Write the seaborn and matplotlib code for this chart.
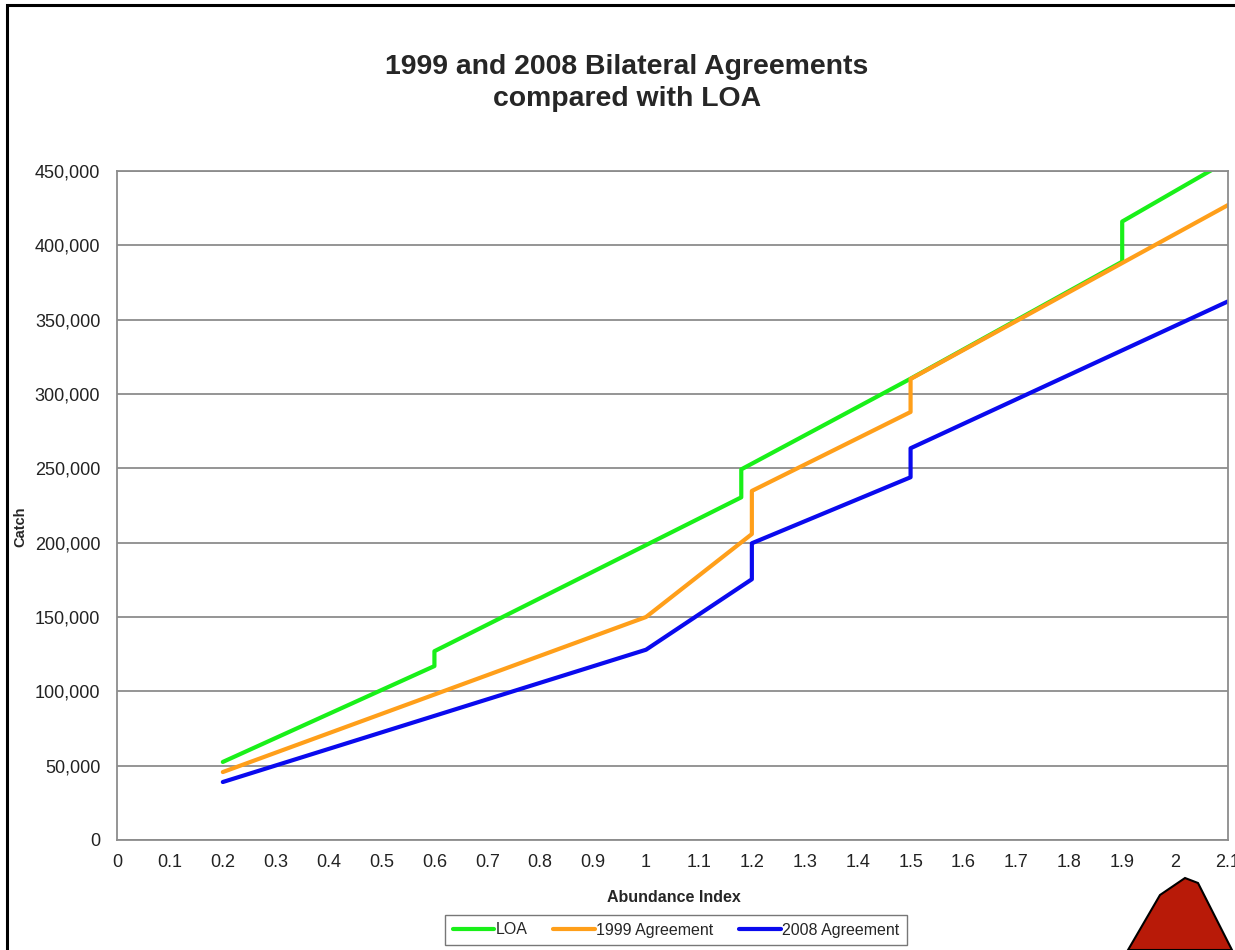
import pandas as pd
import matplotlib.pyplot as plt
import seaborn as sns
from matplotlib.patches import Rectangle, Polygon

# values
abundance_loa = [0.2, 0.6, 0.6, 1.18, 1.18, 1.5, 1.9, 1.9, 2.1]
catch_loa = [52500, 117000, 127000, 230500, 249300, 310300, 389000, 416000, 457000]

abundance_1999 = [0.2, 1.0, 1.2, 1.2, 1.5, 1.5, 2.1]
catch_1999 = [45700, 150000, 205800, 234800, 287900, 310100, 427100]

abundance_2008 = [0.2, 1.0, 1.2, 1.2, 1.5, 1.5, 2.1]
catch_2008 = [39000, 128000, 175400, 199600, 244000, 263500, 362300]

series_names = ['LOA', '1999 Agreement', '2008 Agreement']
series_colors = ['#19f019', '#ff9f1a', '#0a0aee']

x_ticks = [i / 10 for i in range(22)]
y_ticks = list(range(0, 450001, 50000))

df = pd.concat([
    pd.DataFrame({'abundance': abundance_loa, 'catch': catch_loa, 'series': series_names[0]}),
    pd.DataFrame({'abundance': abundance_1999, 'catch': catch_1999, 'series': series_names[1]}),
    pd.DataFrame({'abundance': abundance_2008, 'catch': catch_2008, 'series': series_names[2]}),
], ignore_index=True)

sns.set_style('white')
plt.rcParams['font.family'] = ['Liberation Sans', 'DejaVu Sans']

W, H = 1235, 950
fig = plt.figure(figsize=(W / 100, H / 100), dpi=100)
ax = fig.add_axes([117 / W, 1 - 840 / H, (1228 - 117) / W, (840 - 171) / H])

sns.lineplot(data=df, x='abundance', y='catch', hue='series', hue_order=series_names,
             palette=series_colors, estimator=None, sort=False, lw=3, ax=ax)

ax.set_xlim(0, 2.1)
ax.set_ylim(0, 450000)
ax.set_xticks(x_ticks)
ax.set_xticklabels([f'{v:g}' for v in x_ticks])
ax.set_yticks(y_ticks)
ax.set_yticklabels([f'{v:,}' for v in y_ticks])
ax.tick_params(axis='both', labelsize=13, colors='#888888', labelcolor='#222222',
               direction='out', length=4, width=1.2)
ax.tick_params(axis='y', pad=8)
ax.tick_params(axis='x', pad=6)
ax.set_xlabel('')
ax.set_ylabel('')
ax.yaxis.grid(True, color='#8c8c8c', lw=1.3)
ax.set_axisbelow(True)
for s in ax.spines.values():
    s.set_color('#8c8c8c')
    s.set_linewidth(1.3)

sns.move_legend(ax, loc='center', bbox_to_anchor=(676 / W, 1 - 930 / H),
                bbox_transform=fig.transFigure, ncol=3, title=None, frameon=True,
                fontsize=11.5, handlelength=2.6, handletextpad=0.1, columnspacing=1.6,
                fancybox=False, borderpad=0.5, edgecolor='#777777', framealpha=1)
for line in ax.get_legend().get_lines():
    line.set_linewidth(3)

fig.text(627 / W, 1 - 83 / H, '1999 and 2008 Bilateral Agreements\ncompared with LOA',
         ha='center', va='center', fontsize=20.4, fontweight='bold', linespacing=1.3)
fig.text(20 / W, 1 - 527 / H, 'Catch', rotation=90, ha='center', va='center',
         fontsize=10.5, fontweight='bold')
fig.text(674 / W, 1 - 898 / H, 'Abundance Index', ha='center', va='center',
         fontsize=11.5, fontweight='bold')

# outer frame and the cut-off logo in the corner
fig.add_artist(Rectangle((7 / W, -0.1), 1.1, 1 - 5 / H + 0.1, transform=fig.transFigure,
                         fill=False, ec='black', lw=2.2, clip_on=False))
fig.add_artist(Polygon([(1128 / W, 0), (1160 / W, 1 - 895 / H), (1185 / W, 1 - 878 / H),
                        (1198 / W, 1 - 883 / H), (1232 / W, 0)], closed=True,
                       transform=fig.transFigure, fc='#b81a08', ec='black', lw=1.5))

fig.savefig('out.png', dpi=100)
